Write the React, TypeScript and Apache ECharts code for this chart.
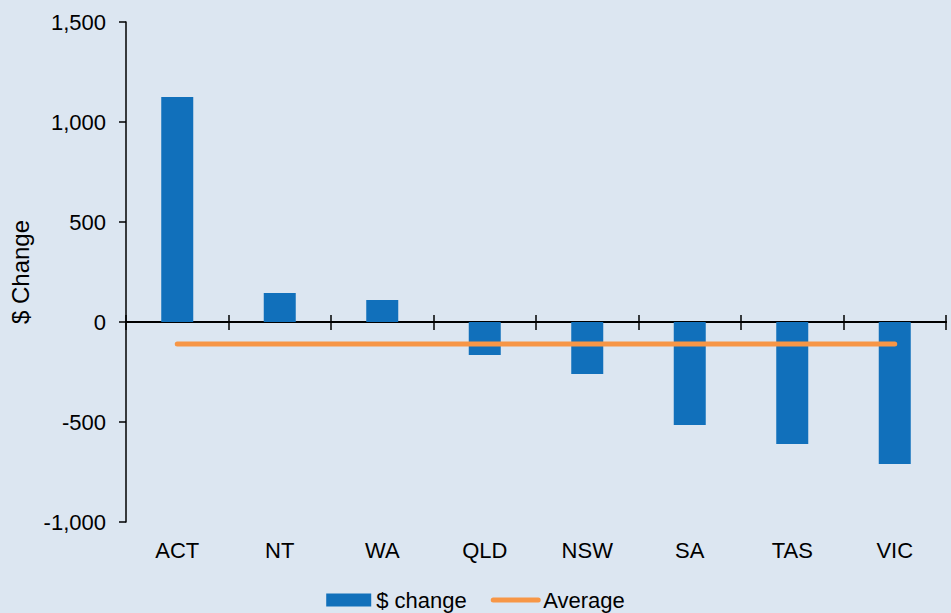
import React, { useEffect, useRef } from "react";
import * as echarts from "echarts";

const categories = ["ACT", "NT", "WA", "QLD", "NSW", "SA", "TAS", "VIC"];
const changeValues = [1125, 145, 110, -165, -260, -515, -610, -710];
const averageValues = [-110, -110, -110, -110, -110, -110, -110, -110];
const yMin = -1000;
const yMax = 1500;
const yStep = 500;

const FONT = "'Liberation Sans', Arial, sans-serif";

export default function App() {
  const ref = useRef<HTMLDivElement>(null);
  useEffect(() => {
    if (!ref.current) return;
    const chart = echarts.init(ref.current, undefined, { renderer: "svg" });
    const gridLayout = { left: 126, right: 5, top: 22, bottom: 91, containLabel: false };
    chart.setOption({
      animation: false,
      backgroundColor: "#dce6f1",
      textStyle: { fontFamily: FONT },
      grid: [gridLayout, { ...gridLayout }],
      xAxis: [
        {
          type: "category",
          gridIndex: 0,
          data: categories,
          position: "bottom",
          axisLine: { show: false, onZero: false },
          axisTick: { show: false },
          axisLabel: { color: "#000", fontSize: 22, fontFamily: FONT, margin: 17 },
        },
        {
          type: "category",
          gridIndex: 0,
          data: categories,
          position: "top",
          axisLine: { onZero: true, lineStyle: { color: "#000", width: 2 } },
          axisTick: { show: true, inside: true, length: 8, lineStyle: { color: "#000", width: 1.5 } },
          axisLabel: { show: false },
        },
        {
          type: "category",
          gridIndex: 1,
          data: categories,
          position: "bottom",
          axisLine: { onZero: true, lineStyle: { color: "#000", width: 2 } },
          axisTick: { show: true, inside: true, length: 7, lineStyle: { color: "#000", width: 1.5 } },
          axisLabel: { show: false },
        },
      ],
      yAxis: [
        {
          type: "value",
          gridIndex: 0,
          min: yMin,
          max: yMax,
          interval: yStep,
          name: "$ Change",
          nameLocation: "middle",
          nameRotate: 90,
          nameGap: 93,
          nameTextStyle: { color: "#000", fontSize: 24, fontFamily: FONT },
          axisLine: { show: true, lineStyle: { color: "#000", width: 1.5 } },
          axisTick: { show: true, inside: false, length: 7, lineStyle: { color: "#000", width: 1.5 } },
          splitLine: { show: false },
          axisLabel: {
            color: "#000",
            fontSize: 22,
            fontFamily: FONT,
            margin: 20,
            formatter: (v: number) => v.toLocaleString("en-US"),
          },
        },
        {
          type: "value",
          gridIndex: 1,
          min: yMin,
          max: yMax,
          interval: yStep,
          axisLine: { show: false },
          axisTick: { show: false },
          axisLabel: { show: false },
          splitLine: { show: false },
        },
      ],
      legend: {
        bottom: -3,
        left: "center",
        itemWidth: 45,
        itemHeight: 13,
        itemGap: 24,
        textStyle: { color: "#000", fontSize: 22, fontFamily: FONT },
        data: [
          { name: "$ change", icon: "rect" },
          { name: "Average", itemStyle: { opacity: 0 }, lineStyle: { width: 5, color: "#f79646", cap: "round" } },
        ],
      },
      series: [
        {
          name: "$ change",
          type: "bar",
          xAxisIndex: 0,
          yAxisIndex: 0,
          data: changeValues,
          barWidth: 32,
          itemStyle: { color: "#1170bb" },
        },
        {
          name: "Average",
          type: "line",
          xAxisIndex: 0,
          yAxisIndex: 0,
          data: averageValues,
          symbol: "none",
          lineStyle: { color: "#f79646", width: 5, cap: "round" },
          itemStyle: { color: "#f79646" },
        },
      ],
    });
    return () => chart.dispose();
  }, []);
  return <div ref={ref} style={{ width: 951, height: 613, position: "absolute", left: 0, top: 0 }} />;
}
